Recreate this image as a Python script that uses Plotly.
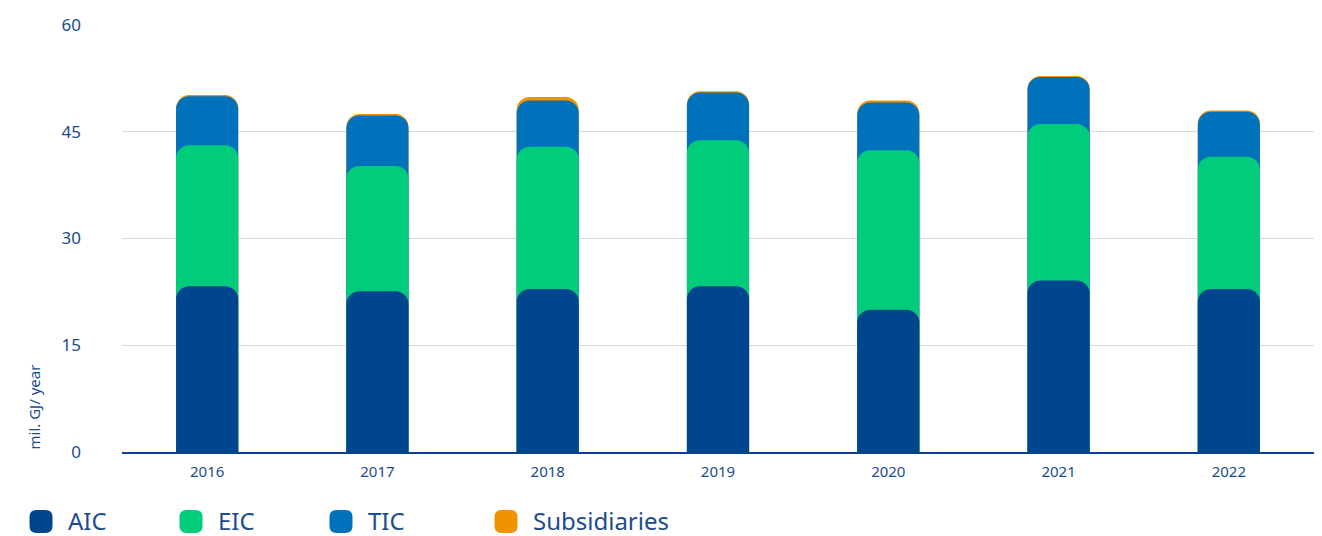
import plotly.graph_objects as go
import numpy as np

years = ["2016", "2017", "2018", "2019", "2020", "2021", "2022"]
aic = [23.3, 22.6, 22.9, 23.3, 20.0, 24.1, 22.9]
eic = [19.8, 17.6, 20.0, 20.5, 22.4, 22.0, 18.6]
tic = [6.9, 7.1, 6.5, 6.7, 6.7, 6.6, 6.3]
subs = [0.15, 0.2, 0.5, 0.2, 0.3, 0.15, 0.2]

y_ticks = [0, 15, 30, 45, 60]

names = ["AIC", "EIC", "TIC", "Subsidiaries"]
colors = ["#00468F", "#00CC7C", "#0071BB", "#F39200"]
series = [aic, eic, tic, subs]

cum = np.cumsum(np.array(series), axis=0)

text_color = "#1B4C8F"

# the page adds an 8px body margin, so the figure is drawn offset by (8, 8)
W, H = 1314, 528
ML, MR, MT, MB = 114, 8, 17, 84
plot_w = W - ML - MR
plot_h = H - MT - MB

fig = go.Figure()
# each segment is drawn as a rounded bar from 0 to its cumulative top, on its own
# overlaid x axis so every segment gets its own rounded top; top of stack drawn first
axis_ids = ["x", "x2", "x3", "x4"]
for k, i in enumerate([3, 2, 1, 0]):
    fig.add_trace(go.Bar(
        x=years, y=cum[i], name=names[i], xaxis=axis_ids[k], yaxis="y",
        marker=dict(color=colors[i], line=dict(width=0), cornerradius="22%"),
        customdata=series[i], showlegend=False,
        hovertemplate="%{x}: %{customdata}<extra>" + names[i] + "</extra>",
    ))

fig.update_layout(
    width=W, height=H,
    barmode="overlay",
    bargap=0.635,
    margin=dict(l=ML, r=MR, t=MT, b=MB, autoexpand=False),
    plot_bgcolor="white", paper_bgcolor="white",
    font=dict(family="Noto Sans", color=text_color),
    showlegend=False,
    xaxis=dict(
        showgrid=False, showline=True, linecolor="#0B4390", linewidth=2,
        tickfont=dict(size=15, color=text_color), ticks="",
        ticklabelstandoff=5, categoryorder="array", categoryarray=years,
    ),
    xaxis2=dict(overlaying="x", matches="x", visible=False,
                categoryorder="array", categoryarray=years),
    xaxis3=dict(overlaying="x", matches="x", visible=False,
                categoryorder="array", categoryarray=years),
    xaxis4=dict(overlaying="x", matches="x", visible=False,
                categoryorder="array", categoryarray=years),
    yaxis=dict(
        range=[0, 60], tickvals=y_ticks, showgrid=True, gridcolor="#D9D9D9",
        gridwidth=1, zeroline=False, tickfont=dict(size=17, color=text_color),
        ticklabelstandoff=40, ticks="",
    ),
)
fig.add_annotation(
    text="mil. GJ/ year", xref="paper", yref="paper",
    x=(33 - 8 - ML) / plot_w, y=0,
    xanchor="center", yanchor="bottom", textangle=-90, showarrow=False,
    font=dict(size=15, color=text_color),
)


# custom legend with rounded-square swatches
def rounded_rect(w, h, r):
    x0, x1, y0, y1 = -w / 2, w / 2, -h / 2, h / 2
    return (f"M{x0 + r},{y0} L{x1 - r},{y0} Q{x1},{y0} {x1},{y0 + r} "
            f"L{x1},{y1 - r} Q{x1},{y1} {x1 - r},{y1} L{x0 + r},{y1} "
            f"Q{x0},{y1} {x0},{y1 - r} L{x0},{y0 + r} Q{x0},{y0} {x0 + r},{y0} Z")


# legend positions in page pixels
legend_icon_px = [41, 191, 341, 506]
icon_y_px = 521.5
text_y_px = 520
for i, name in enumerate(names):
    cx = (legend_icon_px[i] - 8 - ML) / plot_w
    fig.add_shape(
        type="path", xref="paper", yref="paper", xsizemode="pixel", ysizemode="pixel",
        xanchor=cx, yanchor=(452 - icon_y_px) / plot_h, path=rounded_rect(23, 23, 7),
        fillcolor=colors[i], line=dict(width=0),
    )
    fig.add_annotation(
        text=name, xref="paper", yref="paper",
        x=(legend_icon_px[i] + 26 - 8 - ML) / plot_w, y=(452 - text_y_px) / plot_h,
        xanchor="left", yanchor="middle", showarrow=False, borderpad=0,
        font=dict(size=24, color=text_color),
    )

fig.write_html("out.html")
